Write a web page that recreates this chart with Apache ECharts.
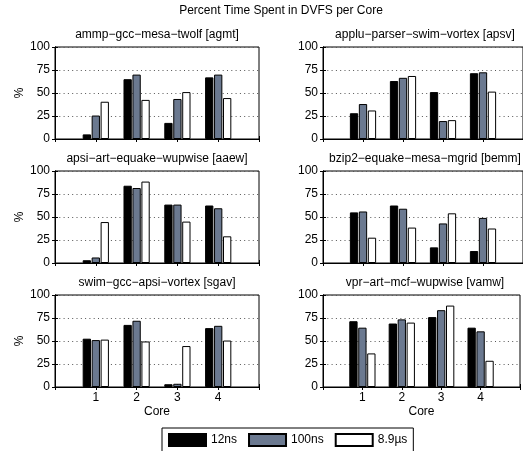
<!DOCTYPE html>
<html><head><meta charset="utf-8">
<script src="https://cdn.jsdelivr.net/npm/echarts@6/dist/echarts.min.js"></script>
<style>html,body{margin:0;padding:0;background:#fff;}#c{width:523px;height:451px;}</style>
</head><body><div id="c"></div>
<script>
const cores = [1, 2, 3, 4];
const yTicks = [0, 25, 50, 75, 100];
const seriesNames = ['12ns', '100ns', '8.9µs'];
const mainTitle = 'Percent Time Spent in DVFS per Core';
const panelTitles = [
  'ammp−gcc−mesa−twolf [agmt]',
  'applu−parser−swim−vortex [apsv]',
  'apsi−art−equake−wupwise [aaew]',
  'bzip2−equake−mesa−mgrid [bemm]',
  'swim−gcc−apsi−vortex [sgav]',
  'vpr−art−mcf−wupwise [vamw]'
];
const agmt12 = [5, 65, 17.5, 67];
const agmt100 = [25.5, 70, 43.5, 70];
const agmt89 = [40.5, 42.5, 51, 44.5];
const apsv12 = [28, 63, 51, 71.5];
const apsv100 = [38, 66.5, 19.5, 72.5];
const apsv89 = [31, 68.5, 20.5, 51.5];
const aaew12 = [3, 84, 63.5, 62.5];
const aaew100 = [6, 81.5, 63.5, 59.5];
const aaew89 = [44.5, 88.5, 45, 29];
const bemm12 = [55, 62.5, 17, 13];
const bemm100 = [56, 59, 43, 49];
const bemm89 = [27.5, 38.5, 54, 37.5];
const sgav12 = [52.5, 67.5, 3, 64];
const sgav100 = [51, 72, 3.5, 66.5];
const sgav89 = [51.5, 49.5, 44.5, 50.5];
const vamw12 = [71.5, 69, 76, 64.5];
const vamw100 = [64.5, 73.5, 83.5, 60.5];
const vamw89 = [36.5, 70, 88.5, 28.5];

const panelData = [
  [agmt12, agmt100, agmt89],
  [apsv12, apsv100, apsv89],
  [aaew12, aaew100, aaew89],
  [bemm12, bemm100, bemm89],
  [sgav12, sgav100, sgav89],
  [vamw12, vamw100, vamw89]
];
const colors = ['#000000', '#6b7990', '#ffffff'];
const FONT = '"Liberation Sans", Arial, Helvetica, sans-serif';

const colLeft = [55, 323];
const rowTop = [47, 171, 295];
const gW = 204, gH = 92;

const grids = [], xAxes = [], yAxes = [], series = [], graphics = [];
graphics.push({type: 'text', x: 281, y: 11, style: {text: mainTitle, textAlign: 'center', textVerticalAlign: 'middle', font: '12px ' + FONT, fill: '#000'}});

for (let p = 0; p < 6; p++) {
  const r = Math.floor(p / 2), c = p % 2;
  const bottomRow = r === 2;
  grids.push({left: colLeft[c], top: rowTop[r], width: gW, height: gH, show: true, borderColor: '#000', borderWidth: 1, backgroundColor: '#fff'});
  const tickStyle = {show: true, inside: true, length: 3, lineStyle: {color: '#000'}};
  xAxes.push({gridIndex: p, type: 'value', min: 0, max: 5, interval: 1, position: 'bottom',
    axisLine: {show: true, lineStyle: {color: '#000'}}, axisTick: tickStyle, splitLine: {show: false},
    axisLabel: {show: bottomRow, margin: 5, fontSize: 12, fontFamily: FONT, color: '#000',
      formatter: v => (cores.indexOf(v) >= 0 ? String(v) : '')},
    name: bottomRow ? 'Core' : '', nameLocation: 'middle', nameGap: 19,
    nameTextStyle: {fontSize: 12, fontFamily: FONT, color: '#000'}});
  xAxes.push({gridIndex: p, type: 'value', min: 0, max: 5, interval: 1, position: 'top',
    axisLine: {show: true, lineStyle: {color: '#000'}}, axisTick: tickStyle, splitLine: {show: false},
    axisLabel: {show: false}});
  yAxes.push({gridIndex: p, type: 'value', min: 0, max: 100, interval: 25, position: 'left',
    axisLine: {show: true, lineStyle: {color: '#000'}}, axisTick: tickStyle,
    splitLine: {show: true, lineStyle: {color: '#555', type: [1, 3.3], width: 1}},
    axisLabel: {show: true, margin: 5, fontSize: 12, fontFamily: FONT, color: '#000',
      formatter: v => (yTicks.indexOf(v) >= 0 ? String(v) : '')},
    name: c === 0 ? '%' : '', nameLocation: 'middle', nameGap: 29, nameRotate: 90,
    nameTextStyle: {fontSize: 12, fontFamily: FONT, color: '#000'}});
  yAxes.push({gridIndex: p, type: 'value', min: 0, max: 100, interval: 25, position: 'right',
    axisLine: {show: true, lineStyle: {color: '#000'}}, axisTick: tickStyle, splitLine: {show: false},
    axisLabel: {show: false}});

  for (let s = 0; s < 3; s++) {
    series.push({
      type: 'bar', name: seriesNames[s], xAxisIndex: p * 2, yAxisIndex: p * 2,
      data: cores.map((cc, i) => [cc, panelData[p][s][i]]),
      barWidth: 8.3, barGap: '8%',
      itemStyle: {color: colors[s], borderColor: '#000', borderWidth: 1},
      emphasis: {disabled: true}, animation: false, z: 3
    });
  }
  graphics.push({type: 'text', x: colLeft[c] + gW / 2, y: rowTop[r] - 12.5,
    style: {text: panelTitles[p], textAlign: 'center', textVerticalAlign: 'middle', font: '12px ' + FONT, fill: '#000'}});
}

const chart = echarts.init(document.getElementById('c'), null, {renderer: 'canvas'});
chart.setOption({
  animation: false,
  grid: grids, xAxis: xAxes, yAxis: yAxes, series: series,
  graphic: graphics,
  legend: {
    data: seriesNames, left: 162, top: 428, orient: 'horizontal',
    icon: 'rect', itemWidth: 37, itemHeight: 12, itemGap: 11,
    padding: [5, 6], borderColor: '#000', borderWidth: 1, backgroundColor: '#fff',
    textStyle: {fontSize: 12, fontFamily: FONT, color: '#000'},
    selectedMode: false
  }
});
</script>
</body></html>
